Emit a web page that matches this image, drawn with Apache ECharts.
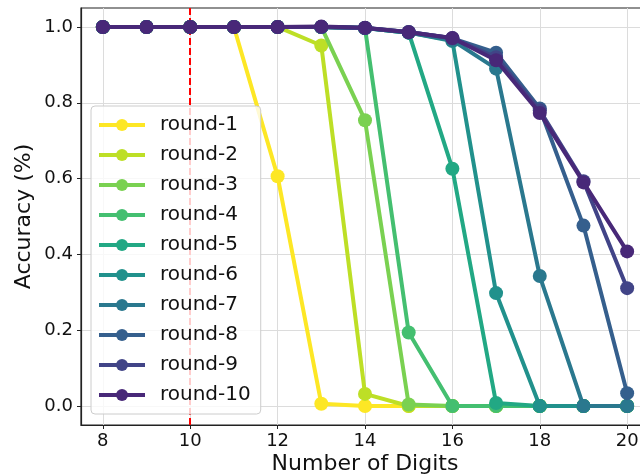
<!DOCTYPE html>
<html>
<head>
<meta charset="utf-8">
<script src="https://cdn.jsdelivr.net/npm/echarts@6/dist/echarts.min.js"></script>
<style>html,body{margin:0;padding:0;background:#fff}#c{width:640px;height:476px}</style>
</head>
<body>
<div id="c"></div>
<script>
const digits = [8, 9, 10, 11, 12, 13, 14, 15, 16, 17, 18, 19, 20];
const seriesNames = ['round-1','round-2','round-3','round-4','round-5','round-6','round-7','round-8','round-9','round-10'];
const round1  = [1, 1, 1, 1, 0.606, 0.006, 0, 0, 0, 0, 0, 0, 0];
const round2  = [1, 1, 1, 1, 1, 0.951, 0.032, 0, 0, 0, 0, 0, 0];
const round3  = [1, 1, 1, 1, 1, 1, 0.754, 0.004, 0, 0, 0, 0, 0];
const round4  = [1, 1, 1, 1, 1, 1, 0.997, 0.194, 0, 0, 0, 0, 0];
const round5  = [1, 1, 1, 1, 1, 1, 0.997, 0.985, 0.626, 0.008, 0, 0, 0];
const round6  = [1, 1, 1, 1, 1, 1, 0.997, 0.985, 0.963, 0.298, 0, 0, 0];
const round7  = [1, 1, 1, 1, 1, 1, 0.997, 0.985, 0.965, 0.890, 0.343, 0, 0];
const round8  = [1, 1, 1, 1, 1, 1, 0.997, 0.987, 0.970, 0.932, 0.785, 0.476, 0.034];
const round9  = [1, 1, 1, 1, 1, 1, 0.997, 0.987, 0.970, 0.920, 0.780, 0.593, 0.311];
const round10 = [1, 1, 1, 1, 1, 1.001, 0.998, 0.986, 0.971, 0.912, 0.773, 0.590, 0.408];
const allRounds = [round1, round2, round3, round4, round5, round6, round7, round8, round9, round10];
const colors = ['#fde725','#bddf26','#7ad151','#44bf70','#22a884','#21918c','#2a788e','#355f8d','#414487','#482878'];
const refDigits = 10;
const xTicks = [8, 10, 12, 14, 16, 18, 20];
const yTicks = [0.0, 0.2, 0.4, 0.6, 0.8, 1.0];

const FONT = 'DejaVu Sans';
const chart = echarts.init(document.getElementById('c'), null, {renderer: 'canvas'});

const series = allRounds.map((vals, i) => ({
  name: seriesNames[i],
  type: 'line',
  data: digits.map((d, j) => [d, vals[j]]),
  symbol: 'circle',
  symbolSize: 14,
  showSymbol: true,
  lineStyle: {width: 4, color: colors[i]},
  itemStyle: {color: colors[i]},
  emphasis: {disabled: true},
  z: 3 + i,
  animation: false
}));
series[0].markLine = {
  silent: true,
  symbol: 'none',
  label: {show: false},
  lineStyle: {color: '#ff0000', type: [7, 3], width: 2},
  data: [{xAxis: refDigits}],
  z: 2
};

chart.setOption({
  animation: false,
  color: colors,
  grid: {left: 81, top: 8, width: 568, height: 417, show: true, borderColor: '#222', borderWidth: 1.2,
    containLabel: false, outerBoundsMode: 'none'},
  xAxis: {
    type: 'value', min: 7.5, max: 20.5,
    name: 'Number of Digits', nameLocation: 'middle', nameGap: 28, nameMoveOverlap: false,
    nameTextStyle: {fontFamily: FONT, fontSize: 22, color: '#111'},
    axisLine: {show: true, onZero: false, lineStyle: {color: '#222', width: 1.2}},
    axisTick: {show: true, length: 4, lineStyle: {color: '#222'}, customValues: xTicks},
    axisLabel: {fontFamily: FONT, fontSize: 18, color: '#111', margin: 7, customValues: xTicks,
      formatter: v => String(v)},
    splitLine: {show: true, lineStyle: {color: '#dcdcdc', width: 1}}
  },
  yAxis: {
    type: 'value', min: -0.05, max: 1.05,
    name: 'Accuracy (%)', nameLocation: 'middle', nameGap: 46, nameMoveOverlap: false,
    nameTextStyle: {fontFamily: FONT, fontSize: 22, color: '#111'},
    axisLine: {show: true, onZero: false, lineStyle: {color: '#222', width: 1.2}},
    axisTick: {show: true, length: 4, lineStyle: {color: '#222'}, customValues: yTicks},
    axisLabel: {fontFamily: FONT, fontSize: 18, color: '#111', margin: 8, customValues: yTicks,
      formatter: v => Number(v).toFixed(1)},
    splitLine: {show: true, lineStyle: {color: '#dcdcdc', width: 1}}
  },
  legend: {
    orient: 'vertical', left: 91, top: 106,
    data: seriesNames,
    itemWidth: 46, itemHeight: 15, itemGap: 10,
    padding: [9, 10, 9, 6],
    backgroundColor: 'rgba(255,255,255,0.8)',
    borderColor: '#cccccc', borderWidth: 1, borderRadius: 4,
    lineStyle: {width: 4},
    textStyle: {fontFamily: FONT, fontSize: 20, color: '#111', padding: [0, 0, 0, 10], lineHeight: 20},
    z: 20
  },
  series: series
});
</script>
</body>
</html>
